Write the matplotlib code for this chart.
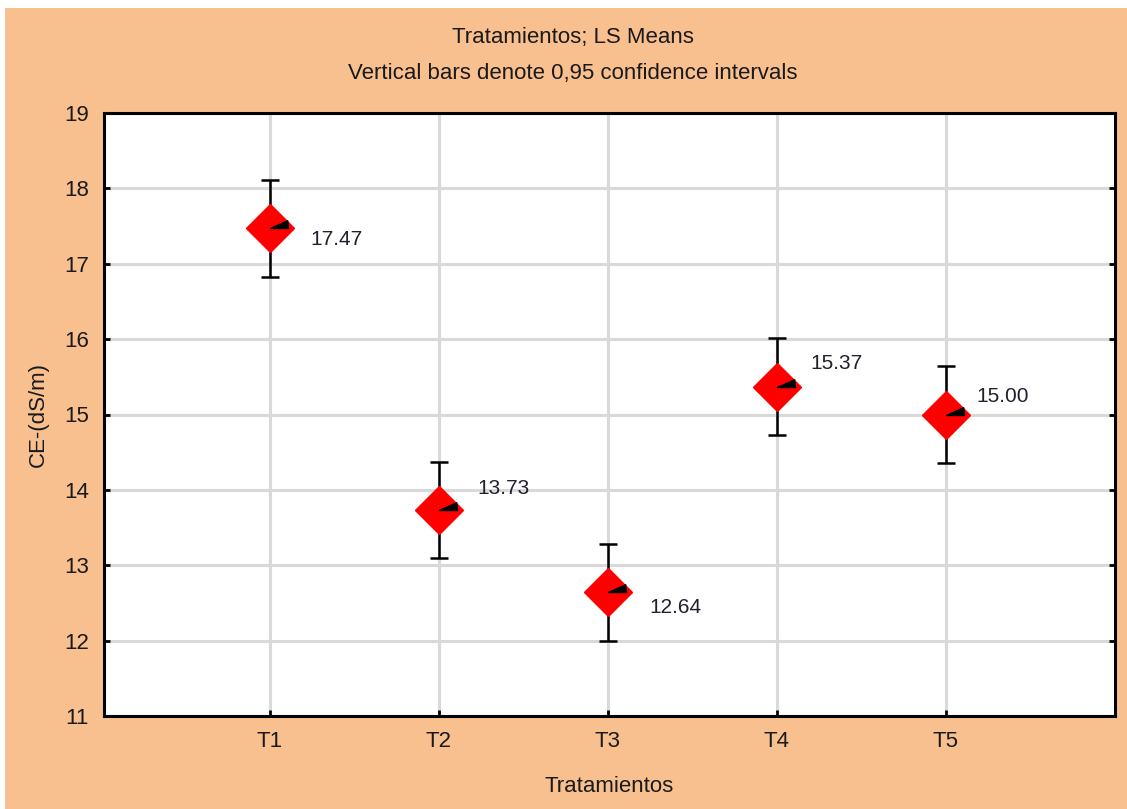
import matplotlib
matplotlib.use('Agg')
import matplotlib.pyplot as plt
from matplotlib.patches import Rectangle

# datos
tratamientos = ['T1', 'T2', 'T3', 'T4', 'T5']
medias = [17.47, 13.73, 12.64, 15.37, 15.00]
ic95 = [0.64, 0.64, 0.64, 0.64, 0.64]
etiquetas = ['17.47', '13.73', '12.64', '15.37', '15.00']

# desplazamiento de las etiquetas (puntos)
desplaz = [(29, -8), (28, 16), (30, -11), (24, 17), (22, 13)]

naranja = '#F8BF8F'
plt.rcParams['font.family'] = ['Liberation Sans', 'DejaVu Sans']

fig = plt.figure(figsize=(11.27, 8.09), dpi=100, facecolor='white')
fig.add_artist(Rectangle((5 / 1127, 0), 1, (809 - 8) / 809, transform=fig.transFigure,
                         facecolor=naranja, edgecolor='none', zorder=-10))
ax = fig.add_axes([104 / 1127, 93 / 809, (1115 - 104) / 1127, (716 - 113) / 809])
ax.set_facecolor('white')

x = list(range(len(tratamientos)))
ax.errorbar(x, medias, yerr=ic95, fmt='none', ecolor='black', elinewidth=1.8,
            capsize=6.5, capthick=1.8, zorder=3)
ax.plot(x, medias, linestyle='none', marker='D', markersize=24, color='#FF0000',
        markeredgecolor='#FF0000', zorder=4)
# pequeña marca negra dentro del rombo
ax.plot(x, medias, linestyle='none', marker=[(0, 0), (1, 0.45), (1.05, 0), (0, 0)],
        markersize=26, color='black', zorder=5)

for xi, yi, txt, (dx, dy) in zip(x, medias, etiquetas, desplaz):
    ax.annotate(txt, (xi, yi), xytext=(dx, dy), textcoords='offset points',
                ha='left', va='center', fontsize=15, color='#20202e', zorder=6)

ax.set_xlim(-0.98, 5.0)
ax.set_ylim(11, 19)
ax.set_xticks(x)
ax.set_xticklabels(tratamientos)
ax.set_yticks(range(11, 20))

ax.grid(True, color='#d9d9d9', linewidth=2.2, zorder=0)
ax.set_axisbelow(True)
for s in ax.spines.values():
    s.set_linewidth(2.2)
    s.set_color('black')

ax.tick_params(axis='both', direction='in', length=4, width=2, labelsize=16,
               colors='black', labelcolor='#1a1a1a')
ax.tick_params(axis='y', pad=11, right=True)
ax.tick_params(axis='x', pad=11)

fig.text(573 / 1127, 1 - 38 / 809, 'Tratamientos; LS Means', ha='center', va='center',
         fontsize=16, color='#1a1a1a')
fig.text(573 / 1127, 1 - 74 / 809, 'Vertical bars denote 0,95 confidence intervals',
         ha='center', va='center', fontsize=16, color='#1a1a1a')
fig.text(38 / 1127, 1 - 415 / 809, 'CE-(dS/m)', rotation=90, ha='center', va='center',
         fontsize=16, color='#1a1a1a')
fig.text(609 / 1127, 1 - 787 / 809, 'Tratamientos', ha='center', va='center',
         fontsize=16, color='#1a1a1a')

fig.savefig('out.png', dpi=100, facecolor=fig.get_facecolor())
